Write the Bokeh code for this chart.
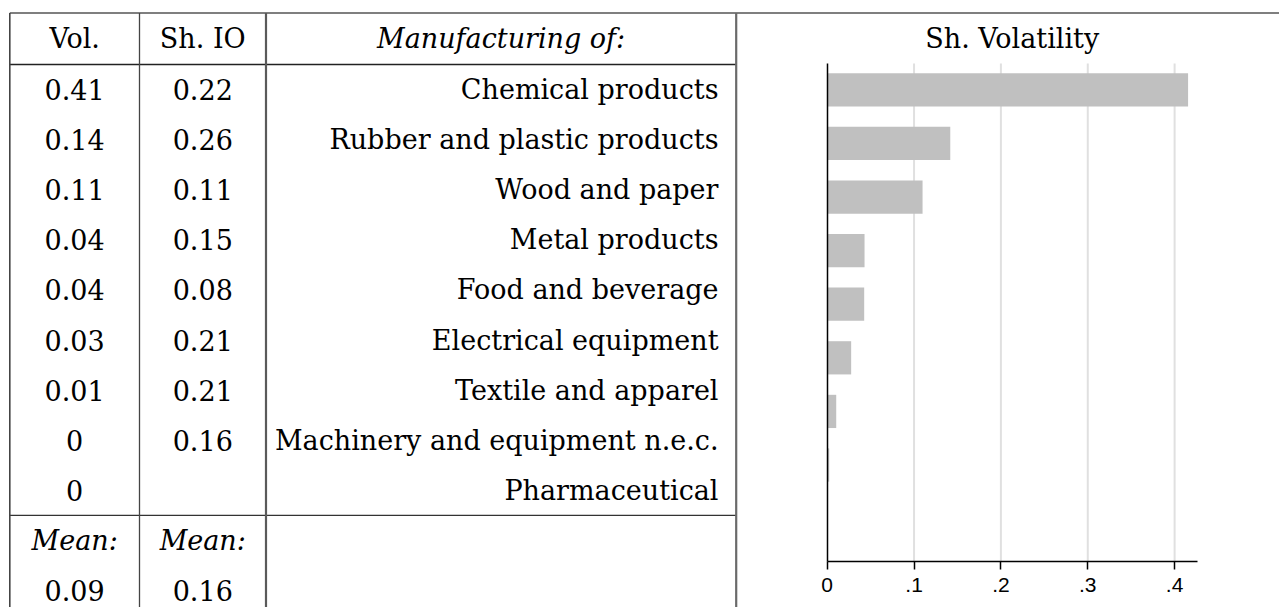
from bokeh.plotting import figure
from bokeh.models import Range1d, FixedTicker, LinearAxis, ColumnDataSource
from bokeh.core.properties import value
from bokeh.embed import file_html
from bokeh.resources import INLINE

# ---------------- data ----------------
headers = ["Vol.", "Sh. IO", "Manufacturing of:"]
industries = ["Chemical products", "Rubber and plastic products", "Wood and paper",
              "Metal products", "Food and beverage", "Electrical equipment",
              "Textile and apparel", "Machinery and equipment n.e.c.", "Pharmaceutical"]
vol_labels = ["0.41", "0.14", "0.11", "0.04", "0.04", "0.03", "0.01", "0", "0"]
io_labels = ["0.22", "0.26", "0.11", "0.15", "0.08", "0.21", "0.21", "0.16", ""]
mean_label = "Mean:"
mean_vol = "0.09"
mean_io = "0.16"
sh_volatility = [0.4155, 0.1417, 0.1098, 0.0430, 0.0426, 0.0276, 0.0104, 0.0023, 0.0]
chart_title = "Sh. Volatility"
x_ticks = [0, 0.1, 0.2, 0.3, 0.4]
x_tick_labels = ["0", ".1", ".2", ".3", ".4"]

# ---------------- layout constants (pixels) ----------------
SERIF = value("DejaVu Serif")
FS = "27px"
W, H = 1279, 607
top_y = 12.5
head_bot = 64.0
row_h = 50.1
mean_top = head_bot + row_h * len(industries)
col_x = [9.3, 139.0, 265.5, 735.7]
col1_c = (col_x[0] + col_x[1]) / 2
col2_c = (col_x[1] + col_x[2]) / 2
col3_c = (col_x[2] + col_x[3]) / 2
col3_r = 718.0
# chart plot area in pixels
ch_left, ch_right, ch_top, ch_bot = 826.7, 1196.7, 63.0, 561.0

p = figure(width=W, height=H, x_range=Range1d(0, W), y_range=Range1d(H, 0),
           x_axis_type=None, y_axis_type=None, toolbar_location=None,
           output_backend="svg", min_border=0, outline_line_color=None)

# ---------------- table ----------------
p.segment(x0=[col_x[0]], x1=[W], y0=[top_y], y1=[top_y], line_color="#555555", line_width=1.4)
p.segment(x0=[col_x[0]], x1=[col_x[3]], y0=[head_bot], y1=[head_bot], line_color="#222222", line_width=1.3)
p.segment(x0=[col_x[0]], x1=[col_x[3]], y0=[mean_top], y1=[mean_top], line_color="#333333", line_width=1.3)
p.segment(x0=[col_x[0]], x1=[col_x[0]], y0=[top_y], y1=[H], line_color="#444444", line_width=1.6)
p.segment(x0=[col_x[1]], x1=[col_x[1]], y0=[top_y], y1=[H], line_color="#444444", line_width=1.3)
p.segment(x0=[col_x[2]], x1=[col_x[2]], y0=[top_y], y1=[H], line_color="#5a5a5a", line_width=2.2)
p.segment(x0=[col_x[3]], x1=[col_x[3]], y0=[top_y], y1=[H], line_color="#6a6a6a", line_width=2.2)

head_y = (top_y + head_bot) / 2
p.text(x=[col1_c, col2_c], y=[head_y, head_y], text=headers[:2], text_font=SERIF,
       text_font_size=FS, text_align="center", text_baseline="middle", text_color="#000000")
p.text(x=[col3_c], y=[head_y], text=[headers[2]], text_font=SERIF, text_font_style="italic",
       text_font_size=FS, text_align="center", text_baseline="middle", text_color="#000000")

row_y = [head_bot + row_h * (i + 0.5) for i in range(len(industries))]
src = ColumnDataSource(dict(y=row_y, vol=vol_labels, io=io_labels, ind=industries,
                            x1=[col1_c] * len(row_y), x2=[col2_c] * len(row_y), x3=[col3_r] * len(row_y)))
p.text(x="x1", y="y", text="vol", source=src, text_font=SERIF, text_font_size=FS,
       text_align="center", text_baseline="middle", text_color="#000000")
p.text(x="x2", y="y", text="io", source=src, text_font=SERIF, text_font_size=FS,
       text_align="center", text_baseline="middle", text_color="#000000")
p.text(x="x3", y="y", text="ind", source=src, text_font=SERIF, text_font_size=FS,
       text_align="right", text_baseline="middle", text_color="#000000")

mean_y1 = mean_top + row_h * 0.5
mean_y2 = mean_top + row_h * 1.5
p.text(x=[col1_c, col2_c], y=[mean_y1, mean_y1], text=[mean_label, mean_label], text_font=SERIF,
       text_font_style="italic", text_font_size=FS, text_align="center", text_baseline="middle",
       text_color="#000000")
p.text(x=[col1_c, col2_c], y=[mean_y2, mean_y2], text=[mean_vol, mean_io], text_font=SERIF,
       text_font_size=FS, text_align="center", text_baseline="middle", text_color="#000000")

# ---------------- bar chart (own data ranges mapped onto the chart area) ----------------
x0, x1 = 0.0, 0.426
y_top, y_bot = 0.509, 9.80
px_x = (ch_right - ch_left) / (x1 - x0)
px_y = (ch_bot - ch_top) / (y_bot - y_top)
p.extra_x_ranges = {"vol": Range1d(x0 - ch_left / px_x, x1 + (W - ch_right) / px_x)}
p.extra_y_ranges = {"cat": Range1d(y_bot + (H - ch_bot) / px_y, y_top - ch_top / px_y)}

# grid lines (only across the chart area)
p.segment(x0=x_ticks[1:], x1=x_ticks[1:], y0=[y_top] * 4, y1=[y_bot] * 4,
          x_range_name="vol", y_range_name="cat", line_color="#e0e0e0", line_width=2)

idx = list(range(1, len(sh_volatility) + 1))
p.hbar(y=idx, left=0, right=sh_volatility, height=0.62, fill_color="#c0c0c0", line_color=None,
       x_range_name="vol", y_range_name="cat")

xa = LinearAxis(x_range_name="vol", y_range_name="cat", fixed_location=y_bot, bounds=(x0, x1),
                ticker=FixedTicker(ticks=x_ticks),
                major_label_overrides={tv: lab for tv, lab in zip(x_ticks, x_tick_labels)})
xa.axis_line_color = "#000000"
xa.axis_line_width = 1.5
xa.major_tick_line_color = "#000000"
xa.major_tick_line_width = 1.5
xa.major_tick_out = 8
xa.major_tick_in = 0
xa.minor_tick_line_color = None
xa.major_label_text_font = "Liberation Sans"
xa.major_label_text_font_size = "21px"
xa.major_label_text_color = "#000000"
xa.major_label_standoff = 8
p.add_layout(xa, "below")

ya = LinearAxis(x_range_name="vol", y_range_name="cat", fixed_location=0, bounds=(y_top, y_bot),
                ticker=FixedTicker(ticks=[]), axis_line_color="#000000", axis_line_width=1.5,
                major_tick_line_color=None, minor_tick_line_color=None,
                major_label_text_color=None)
p.add_layout(ya, "left")

# chart title centred over the chart area
p.text(x=[(x0 + x1) / 2], y=[y_top - (ch_top - 38) / px_y], text=[chart_title],
       x_range_name="vol", y_range_name="cat", text_font=SERIF, text_font_size=FS,
       text_align="center", text_baseline="middle", text_color="#000000")

open("out.html", "w").write(file_html(p, INLINE))
